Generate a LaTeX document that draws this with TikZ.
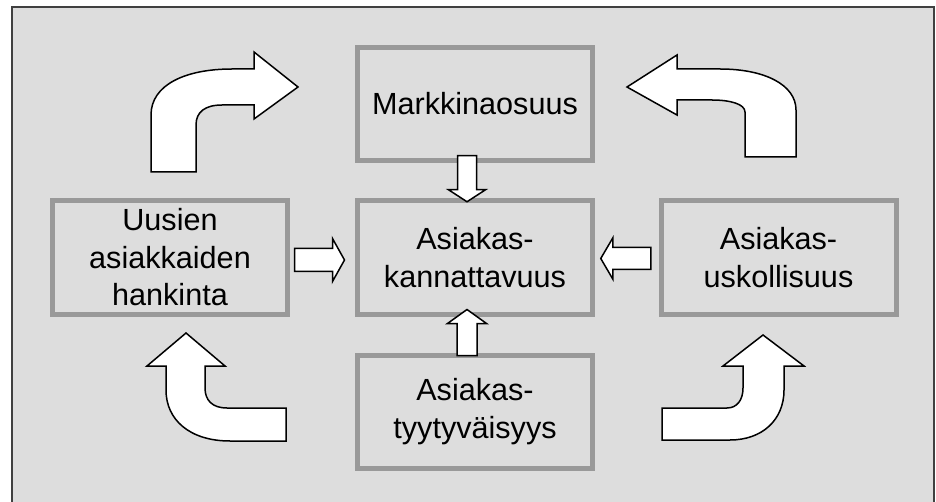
\documentclass[tikz,border=0pt]{standalone}
\usepackage{fontspec}
\setmainfont{Liberation Sans}
\usetikzlibrary{calc}
\definecolor{bg}{HTML}{DDDDDD}
\definecolor{boxline}{HTML}{999999}
\definecolor{frameline}{HTML}{404040}
\begin{document}
\begin{tikzpicture}[x=1pt,y=-1pt,
  box/.style={draw=boxline, line width=5pt, minimum width=235pt, minimum height=113pt,
    align=center, inner sep=0pt, font=\fontsize{30.6}{37.5}\selectfont},
  bendarrow/.style={draw=black, fill=white, line width=1.5pt, line join=miter}
]
\useasboundingbox (0,0) rectangle (936,502);
\fill[white] (0,0) rectangle (936,502);
\draw[frameline, fill=bg, line width=2pt] (12,7) rectangle (934,510);

% boxes
\node[box] (mk) at (475,104) {Markkinaosuus};
\node[box] (ck) at (475,257.5) {Asiakas-\\kannattavuus};
\node[box] (uu) at (170,257.5) {Uusien\\asiakkaiden\\hankinta};
\node[box] (ak) at (778.5,257.5) {Asiakas-\\uskollisuus};
\node[box] (at) at (475,411.5) {Asiakas-\\tyytyväisyys};

% anchor points of the straight block arrows, between the boxes
\coordinate (a1) at ($(mk.south)!0.5!(ck.north)+(-8,-2)$);
\coordinate (a2) at ($(at.north)!0.5!(ck.south)+(-8,-2)$);
\coordinate (a3) at ($(uu.east)!0.5!(ck.west)+(-3,2.5)$);
\coordinate (a4) at ($(ck.east)!0.5!(ak.west)+(-1,1)$);

% straight block arrows
\draw[bendarrow, shift={(a1)}] (-9.5,-23) -- (9.5,-23) -- (9.5,11) -- (18.5,11)
  -- (0,23) -- (-18.5,11) -- (-9.5,11) -- cycle;
\draw[bendarrow, shift={(a2)}] (-10,23) -- (10,23) -- (10,-9) -- (19.5,-9)
  -- (0,-23) -- (-19.5,-9) -- (-10,-9) -- cycle;
\draw[bendarrow, shift={(a3)}] (-25,-11.5) -- (13,-11.5) -- (13,-21.5) -- (25,0)
  -- (13,21.5) -- (13,11.5) -- (-25,11.5) -- cycle;
\draw[bendarrow, shift={(a4)}] (25,-11) -- (-13,-11) -- (-13,-20.5) -- (-25,0)
  -- (-13,20.5) -- (-13,11) -- (25,11) -- cycle;

% curved arrows
\draw[bendarrow] (298,87) -- (254,52) -- (254,69) -- (232,69)
  .. controls (185,69) and (151,85) .. (151,115) -- (151,172) -- (196,172) -- (196,125)
  .. controls (196,112) and (205,105) .. (222,105) -- (254,105) -- (254,119) -- cycle;
\draw[bendarrow] (627,87) -- (677,55) -- (677,69) -- (720,69)
  .. controls (765,69) and (796,85) .. (796,110) -- (796,157) -- (745,157) -- (745,112)
  .. controls (745,104) and (730,100) .. (712,100) -- (677,100) -- (677,115) -- cycle;
\draw[bendarrow] (186,333) -- (225,366) -- (205,366) -- (205,388)
  .. controls (205,400) and (212,408) .. (227,408) -- (286,408) -- (286,441) -- (230,441)
  .. controls (190,441) and (166,420) .. (166,390) -- (166,366) -- (147,366) -- cycle;
\draw[bendarrow] (763,335) -- (804,366) -- (784,366) -- (784,390)
  .. controls (784,420) and (762,440) .. (730,440) -- (662,440) -- (662,408) -- (727,408)
  .. controls (737,408) and (743,400) .. (743,388) -- (743,366) -- (723,366) -- cycle;
\end{tikzpicture}
\end{document}
